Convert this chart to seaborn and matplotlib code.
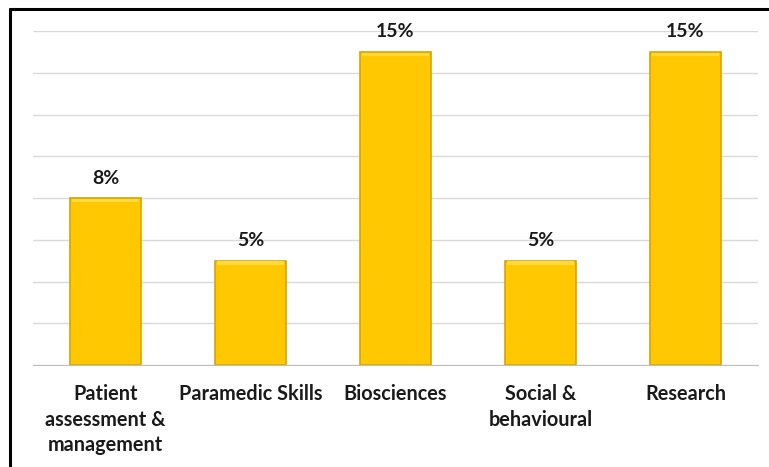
import matplotlib
matplotlib.use("Agg")
import matplotlib.pyplot as plt
import seaborn as sns
import pandas as pd

# data
categories = ["Patient\nassessment &\nmanagement", "Paramedic Skills", "Biosciences",
              "Social &\nbehavioural", "Research"]
values = [8, 5, 15, 5, 15]
labels = ["8%", "5%", "15%", "5%", "15%"]

df = pd.DataFrame({"Category": categories, "Value": values})

sns.set_style("white")
plt.rcParams["font.family"] = ["Lato", "DejaVu Sans"]

fig = plt.figure(figsize=(7.69, 4.67), dpi=100)
ax = fig.add_axes([33 / 769, 1 - 365 / 467, 725 / 769, (365 - 31) / 467])

sns.barplot(data=df, x="Category", y="Value", color="#FFC800", width=0.49,
            edgecolor="#D9A400", linewidth=1.2, saturation=1, ax=ax)

# subtle bevel on the top of each bar
for p in ax.patches:
    x0, w, h = p.get_x(), p.get_width(), p.get_height()
    ax.fill_between([x0 + 0.012, x0 + w - 0.012], h - 0.2, h - 0.03,
                    color="#FFDA3A", zorder=3, linewidth=0)

for i, (v, lab) in enumerate(zip(values, labels)):
    ax.text(i, v + 0.55, lab, ha="center", va="bottom", fontsize=14,
            fontweight="bold", color="#1a1a1a")

ax.set_ylim(0, 16)
ax.set_xlim(-0.5, 4.5)
ax.set_yticks(range(0, 17, 2))
ax.yaxis.grid(True, color="#d9d9d9", linewidth=1)
ax.set_axisbelow(True)
ax.tick_params(axis="y", left=False, labelleft=False)
ax.set_xticks([i - 0.5 for i in range(6)], minor=True)
ax.tick_params(axis="x", which="minor", length=5, color="#bfbfbf", width=1)
ax.tick_params(axis="x", which="major", length=0, pad=14)
for t in ax.get_xticklabels():
    t.set_fontsize(14.3)
    t.set_fontweight("bold")
    t.set_color("#1a1a1a")
    t.set_va("top")
    t.set_linespacing(1.34)
for s in ["top", "right", "left"]:
    ax.spines[s].set_visible(False)
ax.spines["bottom"].set_color("#bfbfbf")
ax.set_xlabel("")
ax.set_ylabel("")

# outer frame (left and top visible)
fig.add_artist(plt.Line2D([10 / 769, 10 / 769], [0, 1 - 9 / 467], color="black", linewidth=2.2,
                          transform=fig.transFigure))
fig.add_artist(plt.Line2D([10 / 769, 1], [1 - 9 / 467, 1 - 9 / 467], color="black", linewidth=2.2,
                          transform=fig.transFigure))

fig.savefig("out.png", dpi=100)
